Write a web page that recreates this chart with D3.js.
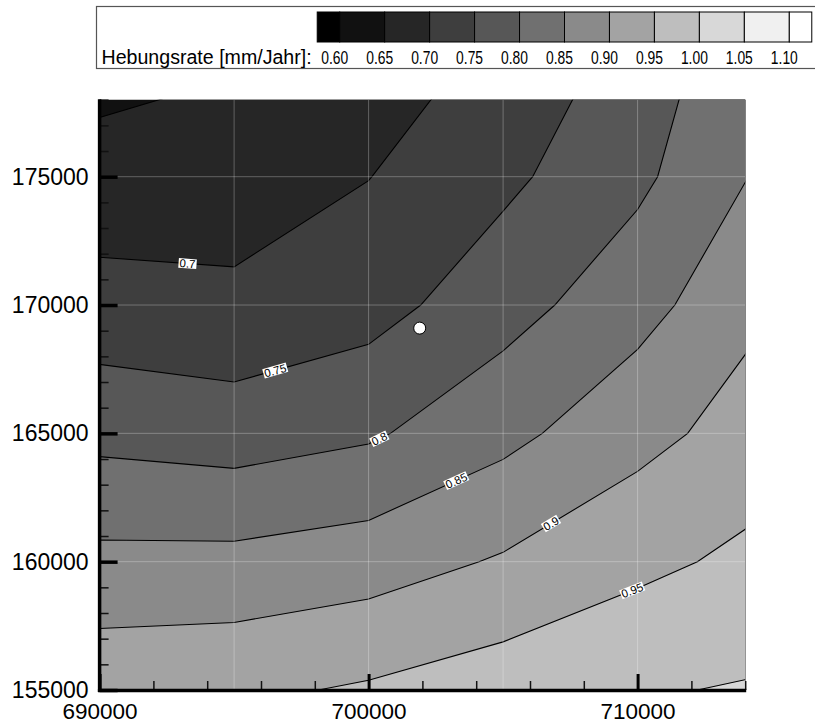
<!DOCTYPE html>
<html>
<head>
<meta charset="utf-8">
<script src="https://cdn.jsdelivr.net/npm/d3@7"></script>
<style>
  body { margin: 0; background: #fff; }
  svg { display: block; }
</style>
</head>
<body>
<svg id="chart" width="815" height="724"></svg>
<script>
// ---- grid of the uplift field (coordinates in m, rates in mm/Jahr) ----
const gridX = [690000, 695000, 700000, 705000, 710000, 715000];
const gridY = [155000, 160000, 165000, 170000, 175000, 180000];
// one row per gridY value (south to north), one entry per gridX value
const rate155 = [0.934, 0.940, 0.956, 0.977, 0.996, 1.005];
const rate160 = [0.863, 0.864, 0.877, 0.905, 0.938, 0.965];
const rate165 = [0.786, 0.776, 0.793, 0.836, 0.884, 0.927];
const rate170 = [0.719, 0.711, 0.731, 0.780, 0.832, 0.897];
const rate175 = [0.668, 0.674, 0.699, 0.739, 0.789, 0.863];
const rate180 = [0.629, 0.643, 0.669, 0.710, 0.766, 0.848];

// ---- contour levels and the grey ramp ----
const levels = [0.60, 0.65, 0.70, 0.75, 0.80, 0.85, 0.90, 0.95, 1.00, 1.05, 1.10];
const levelLabels = ["0.60", "0.65", "0.70", "0.75", "0.80", "0.85", "0.90", "0.95", "1.00", "1.05", "1.10"];
// bandColors[0] is below 0.60, bandColors[k] is between levels[k-1] and levels[k], last is above 1.10
const bandColors = ["#000000", "#111111", "#262626", "#3e3e3e", "#575757", "#707070",
                    "#8a8a8a", "#a3a3a3", "#bebebe", "#d8d8d8", "#f0f0f0", "#ffffff"];
const lineLevels = [0.65, 0.70, 0.75, 0.80, 0.85, 0.90, 0.95, 1.00, 1.05];

// ---- in-line contour labels ----
const labelLevels = [0.70, 0.75, 0.80, 0.85, 0.90, 0.95];
const labelTexts  = ["0.7", "0.75", "0.8", "0.85", "0.9", "0.95"];
const labelAtX    = [693270, 696530, 700400, 703260, 706780, 709800];

// ---- station marker ----
const stationX = [701900];
const stationY = [169100];

// ---- axes ----
const xExtent = [690000, 714000];
const yExtent = [155000, 178000];
const xTicksMajor = [690000, 700000, 710000];
const yTicksMajor = [155000, 160000, 165000, 170000, 175000];
const xGridLines = [695000, 700000, 705000, 710000];
const yGridLines = [160000, 165000, 170000, 175000];
const legendTitle = "Hebungsrate [mm/Jahr]:";

const FONT = "'Liberation Sans', Arial, Helvetica, sans-serif";
const svg = d3.select("#chart");

const plot = { left: 99.6, right: 745.2, top: 99.7, bottom: 690 };
const x = d3.scaleLinear().domain(xExtent).range([plot.left, plot.right]);
const y = d3.scaleLinear().domain(yExtent).range([plot.bottom, plot.top]);

// d3.contours places sample i at coordinate i + 0.5
const gx = d3.scaleLinear().domain([0.5, gridX.length - 0.5]).range([gridX[0], gridX[gridX.length - 1]]);
const gy = d3.scaleLinear().domain([0.5, gridY.length - 0.5]).range([gridY[0], gridY[gridY.length - 1]]);

const values = [].concat(rate155, rate160, rate165, rate170, rate175, rate180);
const contours = d3.contours()
  .size([gridX.length, gridY.length])
  .thresholds(levels)(values);

const toScreen = d3.geoTransform({
  point(c, r) { this.stream.point(x(gx(c)), y(gy(r))); }
});
const path = d3.geoPath(toScreen);

// ---- legend ----
const lg = svg.append("g");
lg.append("rect")
  .attr("x", 96.5).attr("y", 6.5)
  .attr("width", 760).attr("height", 62)
  .attr("fill", "#fff").attr("stroke", "#555").attr("stroke-width", 1.2);

const lx = d3.scaleLinear().domain([levels[0], levels[levels.length - 1]]).range([339.7, 789.3]);
const halfStep = 0.025;
const swatchEdges = [levels[0] - halfStep, ...levels, levels[levels.length - 1] + halfStep];
lg.selectAll("rect.swatch")
  .data(bandColors)
  .join("rect")
  .attr("class", "swatch")
  .attr("x", (d, k) => lx(swatchEdges[k]))
  .attr("y", 12)
  .attr("width", (d, k) => lx(swatchEdges[k + 1]) - lx(swatchEdges[k]))
  .attr("height", 30)
  .attr("fill", d => d)
  .attr("stroke", "#000")
  .attr("stroke-width", 1);

lg.append("text")
  .attr("x", 101.5).attr("y", 64)
  .attr("font-family", FONT).attr("font-size", 19.6)
  .attr("fill", "#000")
  .text(legendTitle);

// level numbers are set in a horizontally condensed face
lg.selectAll("text.lvl")
  .data(levelLabels)
  .join("text")
  .attr("class", "lvl")
  .attr("transform", (d, k) => `translate(${lx(levels[k]) - 5},63.5) scale(0.77,1)`)
  .attr("text-anchor", "middle")
  .attr("font-family", FONT).attr("font-size", 18)
  .attr("fill", "#000")
  .text(d => d);

// ---- plot area ----
svg.append("clipPath").attr("id", "plotClip")
  .append("rect")
  .attr("x", plot.left).attr("y", plot.top)
  .attr("width", plot.right - plot.left).attr("height", plot.bottom - plot.top);

const area = svg.append("g").attr("clip-path", "url(#plotClip)");

// filled bands, stacked from the lowest level upward
area.append("g")
  .selectAll("path")
  .data(contours)
  .join("path")
  .attr("d", path)
  .attr("fill", d => bandColors[levels.indexOf(d.value) + 1])
  .attr("stroke", "none");

// contour lines
area.append("g")
  .selectAll("path")
  .data(contours.filter(c => lineLevels.some(v => Math.abs(v - c.value) < 1e-9)))
  .join("path")
  .attr("d", path)
  .attr("fill", "none")
  .attr("stroke", "#000")
  .attr("stroke-width", 1.1);

// light grid lines
const gridG = area.append("g")
  .attr("stroke", "#fff").attr("stroke-opacity", 0.28).attr("stroke-width", 1);
gridG.selectAll("line.gx").data(xGridLines).join("line")
  .attr("x1", d => x(d)).attr("x2", d => x(d))
  .attr("y1", plot.top).attr("y2", plot.bottom);
gridG.selectAll("line.gy").data(yGridLines).join("line")
  .attr("y1", d => y(d)).attr("y2", d => y(d))
  .attr("x1", plot.left).attr("x2", plot.right);

// in-line labels: find where each level line crosses the chosen easting
function placeOnLine(contour, atX) {
  const px = x(atX);
  let found = null;
  contour.coordinates.forEach(poly => poly.forEach(ring => {
    const pts = ring.map(([c, r]) => [x(gx(c)), y(gy(r))]);
    for (let k = 0; k < pts.length - 1; k++) {
      const [x0, y0] = pts[k], [x1, y1] = pts[k + 1];
      if (x0 === x1 || (x0 - px) * (x1 - px) > 0) continue;
      const t = (px - x0) / (x1 - x0);
      const py = y0 + t * (y1 - y0);
      if (py < plot.top || py > plot.bottom) continue;
      let ang = Math.atan2(y1 - y0, x1 - x0) * 180 / Math.PI;
      if (ang > 90) ang -= 180;
      if (ang < -90) ang += 180;
      found = { x: px, y: py, angle: ang };
    }
  }));
  return found;
}

const labelG = area.append("g");
labelLevels.forEach((lev, k) => {
  const c = contours.find(cc => Math.abs(cc.value - lev) < 1e-9);
  if (!c) return;
  const p = placeOnLine(c, labelAtX[k]);
  if (!p) return;
  const g = labelG.append("g")
    .attr("transform", `translate(${p.x},${p.y}) rotate(${p.angle})`);
  const rect = g.append("rect").attr("fill", "#fff");
  const txt = g.append("text")
    .attr("text-anchor", "middle")
    .attr("dy", "0.36em")
    .attr("font-family", FONT).attr("font-size", 11.5)
    .attr("fill", "#000")
    .text(labelTexts[k]);
  const w = txt.node().getComputedTextLength() + 2;
  rect.attr("x", -w / 2).attr("y", -4.8).attr("width", w).attr("height", 9.6);
});

// station
area.selectAll("circle.station")
  .data(stationX)
  .join("circle")
  .attr("class", "station")
  .attr("cx", d => x(d))
  .attr("cy", (d, k) => y(stationY[k]))
  .attr("r", 6)
  .attr("fill", "#fff")
  .attr("stroke", "#000")
  .attr("stroke-width", 1);

// ---- axes ----
function styleAxis(g) {
  g.attr("font-family", FONT);
  g.select(".domain").remove();
}

// minor ticks
svg.append("g")
  .attr("transform", `translate(${plot.left},0)`)
  .call(d3.axisLeft(y).tickValues(d3.range(yExtent[0], yExtent[1] + 1, 1000)).tickSize(-9).tickFormat(""))
  .call(styleAxis)
  .selectAll("line").attr("stroke", "#111").attr("stroke-width", 1.5);

svg.append("g")
  .attr("transform", `translate(0,${plot.bottom})`)
  .call(d3.axisBottom(x).tickValues(d3.range(xExtent[0], xExtent[1] + 1, 2000)).tickSize(-9).tickFormat(""))
  .call(styleAxis)
  .selectAll("line").attr("stroke", "#111").attr("stroke-width", 1.5);

// major ticks with labels
const yAxisG = svg.append("g")
  .attr("transform", `translate(${plot.left},0)`)
  .call(d3.axisLeft(y).tickValues(yTicksMajor).tickSize(-18).tickPadding(11).tickFormat(d3.format("d")))
  .call(styleAxis);
yAxisG.selectAll("line").attr("stroke", "#000").attr("stroke-width", 3.5);
yAxisG.selectAll("text").attr("font-size", 23).attr("fill", "#000");

const xAxisG = svg.append("g")
  .attr("transform", `translate(0,${plot.bottom})`)
  .call(d3.axisBottom(x).tickValues(xTicksMajor).tickSize(-16).tickPadding(13).tickFormat(d3.format("d")))
  .call(styleAxis);
xAxisG.selectAll("line").attr("stroke", "#000").attr("stroke-width", 3);
xAxisG.selectAll("text").attr("font-size", 22.5).attr("fill", "#000");

// axis lines
svg.append("line")
  .attr("x1", plot.left).attr("x2", plot.left)
  .attr("y1", plot.top - 0.5).attr("y2", plot.bottom + 2)
  .attr("stroke", "#000").attr("stroke-width", 3.5);
svg.append("line")
  .attr("x1", plot.left - 1.7).attr("x2", plot.right + 1)
  .attr("y1", plot.bottom + 0.5).attr("y2", plot.bottom + 0.5)
  .attr("stroke", "#000").attr("stroke-width", 3.5);
</script>
</body>
</html>
